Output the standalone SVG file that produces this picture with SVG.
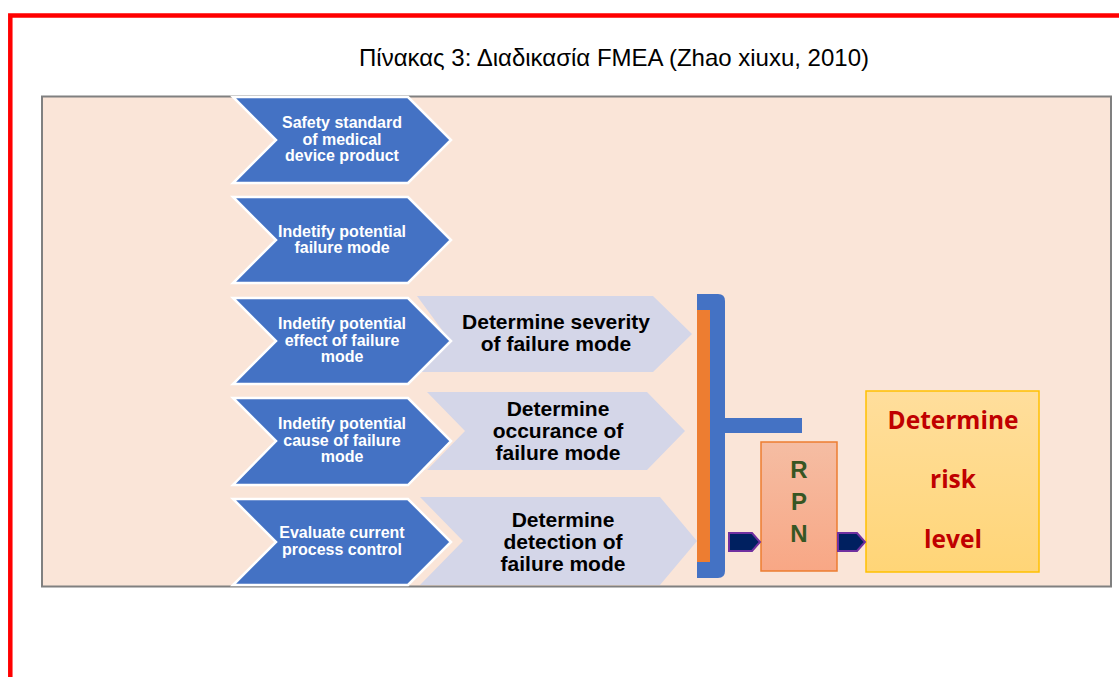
<svg xmlns="http://www.w3.org/2000/svg" width="1119" height="677" viewBox="0 0 1119 677">
<style>
.chev{fill:#4472C4;stroke:#FFFFFF;stroke-width:2.5;stroke-linejoin:miter}
.lchev{fill:#D4D6E8}
.wt{font-family:"Liberation Sans",Arial,sans-serif;font-weight:bold;font-size:16px;fill:#FFFFFF;text-anchor:middle}
.bt{font-family:"Liberation Sans",Arial,sans-serif;font-weight:bold;font-size:21px;fill:#000000;text-anchor:middle}
.rpn{font-family:"Liberation Sans",Arial,sans-serif;font-weight:bold;font-size:24px;fill:#375623;text-anchor:middle}
.risk{font-family:"Open Sans","Liberation Sans",sans-serif;font-weight:bold;font-size:24.5px;fill:#C00000;text-anchor:middle}
.sarrow{fill:#002060;stroke:#7030A0;stroke-width:2}
</style>
<defs>
<linearGradient id="gRpn" x1="0" y1="0" x2="0" y2="1">
<stop offset="0" stop-color="#F5BDA3"/>
<stop offset="1" stop-color="#F8A785"/>
</linearGradient>
<linearGradient id="gRisk" x1="0" y1="0" x2="0" y2="1">
<stop offset="0" stop-color="#FFDE9C"/>
<stop offset="1" stop-color="#FFD577"/>
</linearGradient>
</defs>
<rect x="0" y="0" width="1119" height="677" fill="#FFFFFF"/>
<path d="M10.3,677 V15.5 H1119" fill="none" stroke="#FF0000" stroke-width="4.5"/>
<text x="614" y="66" font-family="'Liberation Sans',Arial,sans-serif" font-size="24px" fill="#000000" text-anchor="middle">Πίνακας 3: Διαδικασία FMEA (Zhao xiuxu, 2010)</text>
<rect id="panel" x="42" y="96.5" width="1069" height="490" fill="#FAE5D8" stroke="#808080" stroke-width="2"/>

<g id="light1">
<polygon class="lchev" points="417,296 653,296 692,334 653,372 417,372 445,334"/>
<text class="bt" x="556" y="329">Determine severity</text>
<text class="bt" x="556" y="351">of failure mode</text>
</g>
<g id="light2">
<polygon class="lchev" points="427,392 647,392 685,431 647,470 427,470 465,431"/>
<text class="bt" x="558" y="416">Determine</text>
<text class="bt" x="558" y="438">occurance of</text>
<text class="bt" x="558" y="460">failure mode</text>
</g>
<g id="light3">
<polygon class="lchev" points="420,497 660,497 697,541 660,585 420,585 463,541"/>
<text class="bt" x="563" y="527">Determine</text>
<text class="bt" x="563" y="549">detection of</text>
<text class="bt" x="563" y="571">failure mode</text>
</g>

<g id="chev1">
<polygon class="chev" points="233,97 408,97 451,140 408,183 233,183 276,140"/>
<text class="wt" x="342" y="128">Safety standard</text>
<text class="wt" x="342" y="145">of medical</text>
<text class="wt" x="342" y="161">device product</text>
</g>
<g id="chev2">
<polygon class="chev" points="233,197 408,197 451,240 408,283 233,283 276,240"/>
<text class="wt" x="342" y="237">Indetify potential</text>
<text class="wt" x="342" y="253">failure mode</text>
</g>
<g id="chev3">
<polygon class="chev" points="233,298 408,298 451,341 408,384 233,384 276,341"/>
<text class="wt" x="342" y="329">Indetify potential</text>
<text class="wt" x="342" y="346">effect of failure</text>
<text class="wt" x="342" y="362">mode</text>
</g>
<g id="chev4">
<polygon class="chev" points="233,398 408,398 451,441 408,485 233,485 276,441"/>
<text class="wt" x="342" y="429">Indetify potential</text>
<text class="wt" x="342" y="446">cause of failure</text>
<text class="wt" x="342" y="462">mode</text>
</g>
<g id="chev5">
<polygon class="chev" points="233,499 408,499 451,542 408,585 233,585 276,542"/>
<text class="wt" x="342" y="538">Evaluate current</text>
<text class="wt" x="342" y="555">process control</text>
</g>

<g id="bracket">
<path d="M697,294 H718 Q725,294 725,301 V418 H802 V433 H725 V571 Q725,578 718,578 H697 Z" fill="#4472C4"/>
<rect x="697" y="310" width="13" height="252" fill="#ED7D31"/>
</g>

<g id="rpn">
<rect x="761" y="442" width="76" height="129" fill="url(#gRpn)" stroke="#ED7D31" stroke-width="1.5"/>
<text class="rpn" x="799" y="478">R</text>
<text class="rpn" x="799" y="510">P</text>
<text class="rpn" x="799" y="542">N</text>
</g>

<g id="risk">
<rect x="866" y="391" width="173" height="181" fill="url(#gRisk)" stroke="#FFC000" stroke-width="1.5"/>
<text class="risk" x="953" y="429">Determine</text>
<text class="risk" x="953" y="488">risk</text>
<text class="risk" x="953" y="548">level</text>
</g>

<g id="connectors">
<polygon class="sarrow" points="729,533 752,533 760,542 752,551 729,551"/>
<polygon class="sarrow" points="838,533 857,533 865,542 857,551 838,551"/>
</g>
</svg>
